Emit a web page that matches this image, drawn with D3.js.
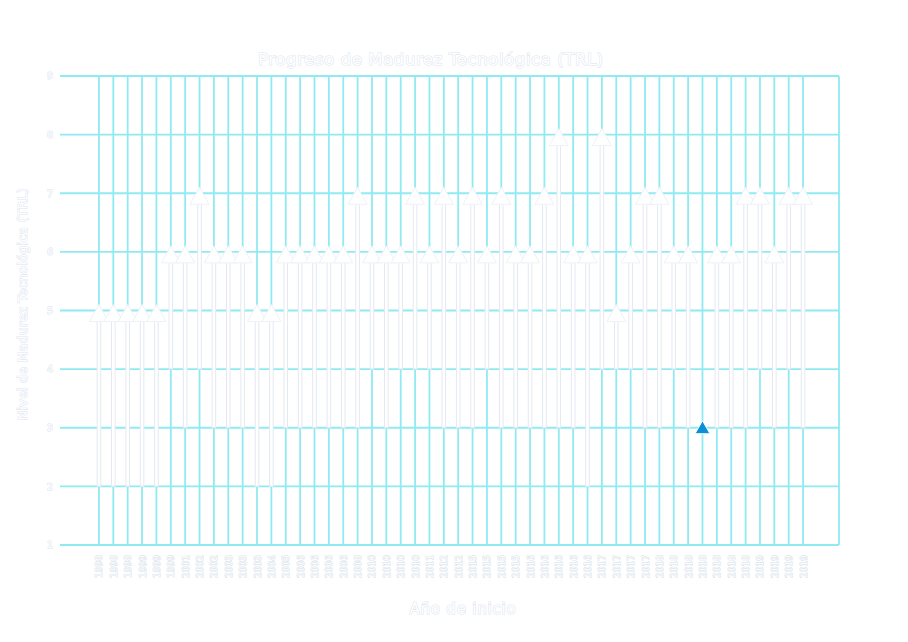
<!DOCTYPE html>
<html><head><meta charset="utf-8">
<script src="https://cdn.jsdelivr.net/npm/d3@7"></script>
<style>html,body{margin:0;padding:0;background:#fff;}svg{display:block;}</style>
</head><body>
<svg id="chart" width="908" height="642"></svg>
<script>
// ---- data ----
const years = [1998,1998,1998,1999,1999,1999,2001,2002,2002,2003,2003,2003,2004,2005,2006,2006,2006,2006,2008,2010,2010,2010,2010,2011,2012,2012,2015,2015,2015,2015,2016,2016,2016,2016,2016,2017,2017,2017,2017,2018,2018,2018,2018,2018,2018,2018,2019,2019,2019,2019];
const trlStart = [2,2,2,2,2,4,3,4,3,3,3,2,2,3,3,3,3,3,3,4,3,4,4,4,3,3,3,4,3,3,3,3,3,3,2,4,4,4,3,3,4,3,3,3,3,3,4,3,4,3];
const trlEnd   = [5,5,5,5,5,6,6,7,6,6,6,5,5,6,6,6,6,6,7,6,6,6,7,6,7,6,7,6,7,6,6,7,8,6,6,8,5,6,7,7,6,6,3,6,6,7,7,6,7,7];
const yTicks = [1,2,3,4,5,6,7,8,9];
const title = "Progreso de Madurez Tecnológica (TRL)";
const xTitle = "Año de inicio";
const yTitle = "Nivel de Madurez Tecnológica (TRL)";

const idx = years.map((d,i)=>i);
const svg = d3.select("#chart");
const L=60, R=839, T=76, B=545;
const x = d3.scaleLinear().domain([-2.71, 51.5]).range([L, R]);
const y = d3.scaleLinear().domain([1, 9]).range([B, T]);
const grid = "#90eaf2";
const outline = "#e4e9f1";
const FONT = "DejaVu Sans, sans-serif";

// horizontal gridlines
svg.append("g").selectAll("line").data(yTicks).join("line")
  .attr("x1", L).attr("x2", R).attr("y1", d=>y(d)).attr("y2", d=>y(d))
  .attr("stroke", grid).attr("stroke-width", 1.8);
// vertical gridlines
svg.append("g").selectAll("line").data(idx).join("line")
  .attr("x1", d=>x(d)).attr("x2", d=>x(d)).attr("y1", T).attr("y2", B)
  .attr("stroke", grid).attr("stroke-width", 1.8);
// right border
svg.append("line").attr("x1", R).attr("x2", R).attr("y1", T).attr("y2", B)
  .attr("stroke", grid).attr("stroke-width", 1.8);

// arrows
const arrows = idx.filter(i => trlEnd[i] > trlStart[i]);
const ag = svg.append("g");
ag.selectAll("line.o").data(arrows).join("line").attr("class","o")
  .attr("x1", i=>x(i)).attr("x2", i=>x(i))
  .attr("y1", i=>y(trlStart[i])+0.5).attr("y2", i=>y(trlEnd[i])+8)
  .attr("stroke", outline).attr("stroke-width", 4.6);
ag.selectAll("line.w").data(arrows).join("line").attr("class","w")
  .attr("x1", i=>x(i)).attr("x2", i=>x(i))
  .attr("y1", i=>y(trlStart[i])-0.8).attr("y2", i=>y(trlEnd[i])+8)
  .attr("stroke", "#ffffff").attr("stroke-width", 2.6);
ag.selectAll("path").data(arrows).join("path")
  .attr("d", i => {
    const cx = x(i), cy = y(trlEnd[i]);
    return `M${cx},${cy-6}L${cx+9.5},${cy+11}L${cx-9.5},${cy+11}Z`;
  })
  .attr("fill", "#ffffff").attr("stroke", "#eef1f6").attr("stroke-width", 1);

// markers for projects with no progress
const flat = idx.filter(i => trlEnd[i] <= trlStart[i]);
svg.append("g").selectAll("path").data(flat).join("path")
  .attr("d", i => {
    const cx = x(i), cy = y(trlEnd[i]);
    return `M${cx},${cy-7}L${cx+7.5},${cy+6}L${cx-7.5},${cy+6}Z`;
  })
  .attr("fill", "#0a8fd8").attr("stroke", "#ffffff").attr("stroke-width", 1);

// text style helper
function ghost(sel, sw, col){ return sel.attr("fill","#ffffff").attr("stroke", col || "#dbe3ee").attr("stroke-width", sw).attr("paint-order","stroke"); }

// y tick labels
const yl = svg.append("g").selectAll("text").data(yTicks).join("text")
  .attr("x", 53).attr("y", d=>y(d)).attr("dy","0.35em").attr("text-anchor","end")
  .attr("font-family", FONT).attr("font-size", 9.5)
  .text(d=>d);
ghost(yl, 1);

// x tick labels
const xl = svg.append("g").selectAll("text").data(idx).join("text")
  .attr("transform", i=>`translate(${x(i)+3.5},${555}) rotate(-90)`)
  .attr("text-anchor","end")
  .attr("font-family", FONT).attr("font-size", 9)
  .text(i=>years[i]);
ghost(xl, 0.9, "#d2dde9");

// titles
ghost(svg.append("text").attr("x", 431).attr("y", 65).attr("text-anchor","middle")
  .attr("font-family", FONT).attr("font-size", 16.5).attr("letter-spacing", 0.6)
  .text(title), 1.2, "#e0e7f0");
ghost(svg.append("text").attr("x", 463).attr("y", 614).attr("text-anchor","middle")
  .attr("font-family", FONT).attr("font-size", 15).attr("letter-spacing", 0.8)
  .text(xTitle), 1.2, "#e0e7f0");
ghost(svg.append("text").attr("transform", `translate(27,304) rotate(-90)`).attr("text-anchor","middle")
  .attr("font-family", FONT).attr("font-size", 12.5).attr("letter-spacing", 0.3)
  .text(yTitle), 1.1, "#e0e7f0");
</script>
</body></html>
